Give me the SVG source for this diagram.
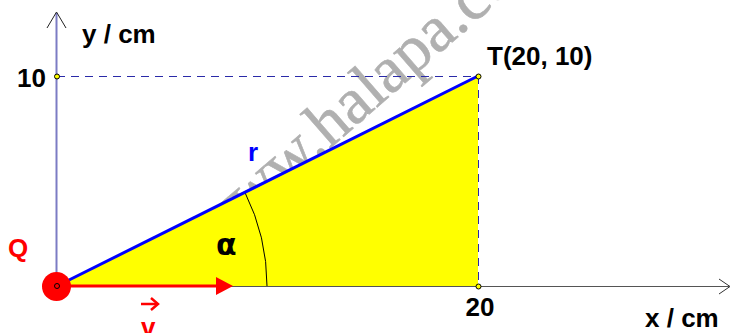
<svg xmlns="http://www.w3.org/2000/svg" width="732" height="333" viewBox="0 0 732 333">
<style>
.lbl{font-family:"Liberation Sans",Arial,sans-serif;font-weight:bold;font-size:26px;}
.dash{stroke:#2a2aa8;stroke-width:1;stroke-dasharray:8 6;fill:none;}
.dot{fill:#ffff00;stroke:#000;stroke-width:1;}
</style>
<rect width="732" height="333" fill="#fff"/>
<text transform="translate(212,251) rotate(-41)" font-family="Liberation Serif,serif" font-size="66" fill="#b0b0b0" stroke="#b0b0b0" stroke-width="0.6">www.halapa.com</text>
<polygon id="triangle" points="57,286 478,76 478,286" fill="#ffff00"/>
<g id="grid">
<line class="dash" x1="57" y1="76.5" x2="478" y2="76.5"/>
<line class="dash" x1="478.5" y1="76" x2="478.5" y2="286"/>
</g>
<g id="axes">
<line x1="57" y1="286.5" x2="729" y2="286.5" stroke="#555" stroke-width="1"/>
<polyline points="719,279 730,286.5 719,294" fill="none" stroke="#333" stroke-width="1"/>
<line x1="56.5" y1="300" x2="56.5" y2="13" stroke="#7c7cc4" stroke-width="2"/>
<polyline points="47,28 56.5,12 66,28" fill="none" stroke="#222" stroke-width="1"/>
</g>
<path id="arc" d="M267,286 A210,210 0 0 0 244.9,192.3" fill="none" stroke="#000" stroke-width="1"/>
<line id="r" x1="57" y1="286" x2="478" y2="76" stroke="#0000ff" stroke-width="3"/>
<g id="velocity">
<line x1="57" y1="286" x2="220" y2="286" stroke="#ff0000" stroke-width="3"/>
<polygon points="233,286 216,277 216,295" fill="#ff0000"/>
</g>
<g id="Q">
<circle cx="56.5" cy="286.5" r="14.5" fill="#ff0000"/>
<circle cx="57" cy="286" r="2.5" fill="none" stroke="#000" stroke-width="1"/>
</g>
<g id="points">
<circle class="dot" cx="57" cy="76.5" r="2.5"/>
<circle class="dot" cx="478.5" cy="76.5" r="2.5"/>
<circle class="dot" cx="478.5" cy="286.5" r="2.5"/>
</g>
<g id="labels">
<text class="lbl" x="82" y="43">y / cm</text>
<text class="lbl" x="46" y="87" text-anchor="end">10</text>
<text class="lbl" x="487" y="65">T(20, 10)</text>
<text class="lbl" x="480" y="316" text-anchor="middle">20</text>
<text class="lbl" x="645" y="327">x / cm</text>
<text class="lbl" x="8" y="257" fill="#ff0000">Q</text>
<text class="lbl" x="248" y="161" fill="#0000ff">r</text>
<text x="216" y="255" font-family="DejaVu Sans,sans-serif" font-weight="bold" font-size="30">α</text>
<text class="lbl" x="141" y="336" fill="#ff0000">v</text>
<g stroke="#ff0000" stroke-width="2.5" fill="none">
<line x1="141" y1="304" x2="157" y2="304"/>
<polyline points="151,298 158,304 151,310"/>
</g>
</g>
</svg>
